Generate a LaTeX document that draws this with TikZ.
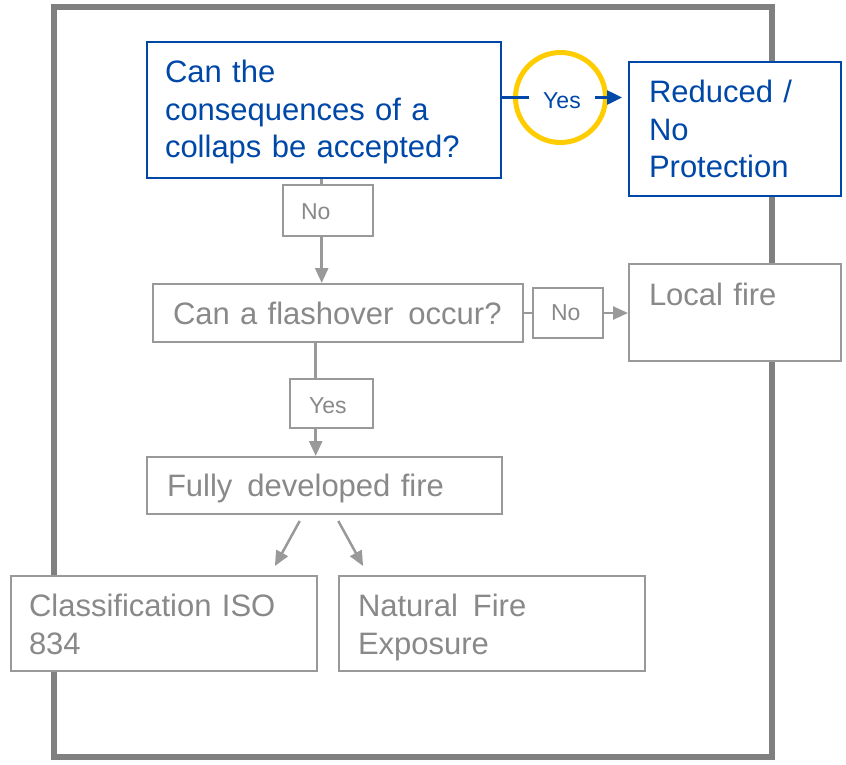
\documentclass[tikz,border=0pt]{standalone}
\usepackage{fontspec}
\setmainfont{Liberation Sans}
\usetikzlibrary{arrows.meta}

\definecolor{cblue}{RGB}{0,72,168}
\definecolor{cyellow}{RGB}{255,204,0}
\definecolor{cframe}{RGB}{128,128,128}
\definecolor{cline}{RGB}{153,153,153}
\definecolor{ctext}{RGB}{137,137,137}

\begin{document}
\begin{tikzpicture}[x=1pt,y=-1pt,
  flowbox/.style={draw, fill=white, line width=2pt, rectangle, anchor=north west,
    inner ysep=0pt, align=left},
  bigtext/.style={font=\fontsize{31}{37.5}\selectfont},
  bluebox/.style={flowbox, bigtext, draw=cblue, text=cblue},
  graybox/.style={flowbox, bigtext, draw=cline, text=ctext},
  tagbox/.style={flowbox, draw=cline, text=ctext, font=\fontsize{23}{27}\selectfont},
  garrow/.style={draw=cline, line width=2.5pt, -{Triangle[length=15pt,width=13pt]}},
  barrow/.style={draw=cblue, line width=2.5pt, -{Triangle[length=15pt,width=14pt]}},
  ring/.style={circle, draw=cyellow, line width=5pt, minimum size=90pt, inner sep=0pt},
  yeslabel/.style={fill=white, text=cblue, font=\fontsize{23}{27}\selectfont,
    inner xsep=14pt, inner ysep=0pt, text height=24pt, text depth=2.5pt}
]
\useasboundingbox (0,0) rectangle (846,764);

% outer frame
\draw[draw=cframe, line width=6pt] (54,7) rectangle (772,757);

% main boxes
\node[bluebox, inner xsep=18pt, text width=318pt, text height=40.7pt, text depth=95.3pt]
  (q1) at (146,41) {Can the\\consequences of a\\collaps be accepted?};
\node[bluebox, inner xsep=20pt, text width=172pt, text height=40.7pt, text depth=93.3pt]
  (reduced) at (628,61) {Reduced /\\No\\Protection};
\node[graybox, inner xsep=20pt, text width=330pt, text height=40.3pt, text depth=17.7pt]
  (flash) at (152,283) {\mbox{Can a flashover\hspace{0.15em} occur?}};
\node[graybox, inner xsep=20pt, text width=172pt, text height=41.3pt, text depth=55.7pt]
  (local) at (628,263) {Local fire};
\node[graybox, inner xsep=20pt, text width=315pt, text height=39pt, text depth=18pt]
  (fully) at (146,456) {\mbox{Fully\hspace{0.15em} developed fire}};
\node[graybox, inner xsep=18pt, text width=270pt, text height=40.7pt, text depth=54.3pt]
  (class) at (10,575) {Classification ISO\\834};
\node[graybox, inner xsep=19pt, text width=268pt, text height=40.7pt, text depth=54.3pt]
  (natural) at (338,575) {Natural\hspace{0.15em} Fire\\Exposure};

% "Yes" branch to reduced protection
\node[ring] (yes) at (560.5,97.5) {};
\draw[barrow, shorten >=6pt] (q1.east |- yes.center)
  -- node[yeslabel, pos=0.476] (yeslbl) {Yes} (reduced.west |- yes.center);

% column positions of the vertical connectors
\coordinate (c1) at (321.7,0);
\coordinate (c2) at (315.7,0);

% gray connectors
\draw[garrow] (q1.south -| c1) -- (flash.north -| c1);
\draw[garrow] (flash.east) -- (flash.east -| local.west);
\draw[garrow] (flash.south -| c2) -- (fully.north -| c2);
\draw[garrow, shorten <=6.8pt, shorten >=10.2pt]
  ([xshift=157pt]fully.south west) -- ([xshift=260pt]class.north west);
\draw[garrow, shorten <=6.8pt, shorten >=10.2pt]
  ([xshift=189pt]fully.south west) -- ([xshift=30pt]natural.north west);

% answer tags on the connectors
\node[tagbox, inner xsep=18pt, text width=54pt, text height=34pt, text depth=17pt]
  (no1) at (282,184) {No};
\node[tagbox, inner xsep=18pt, text width=34pt, text height=32.5pt, text depth=17.5pt]
  (no2) at (532,287) {No};
\node[tagbox, inner xsep=19pt, text width=45pt, text height=34.7pt, text depth=14.3pt]
  (yes2) at (289,378) {Yes};
\end{tikzpicture}
\end{document}
